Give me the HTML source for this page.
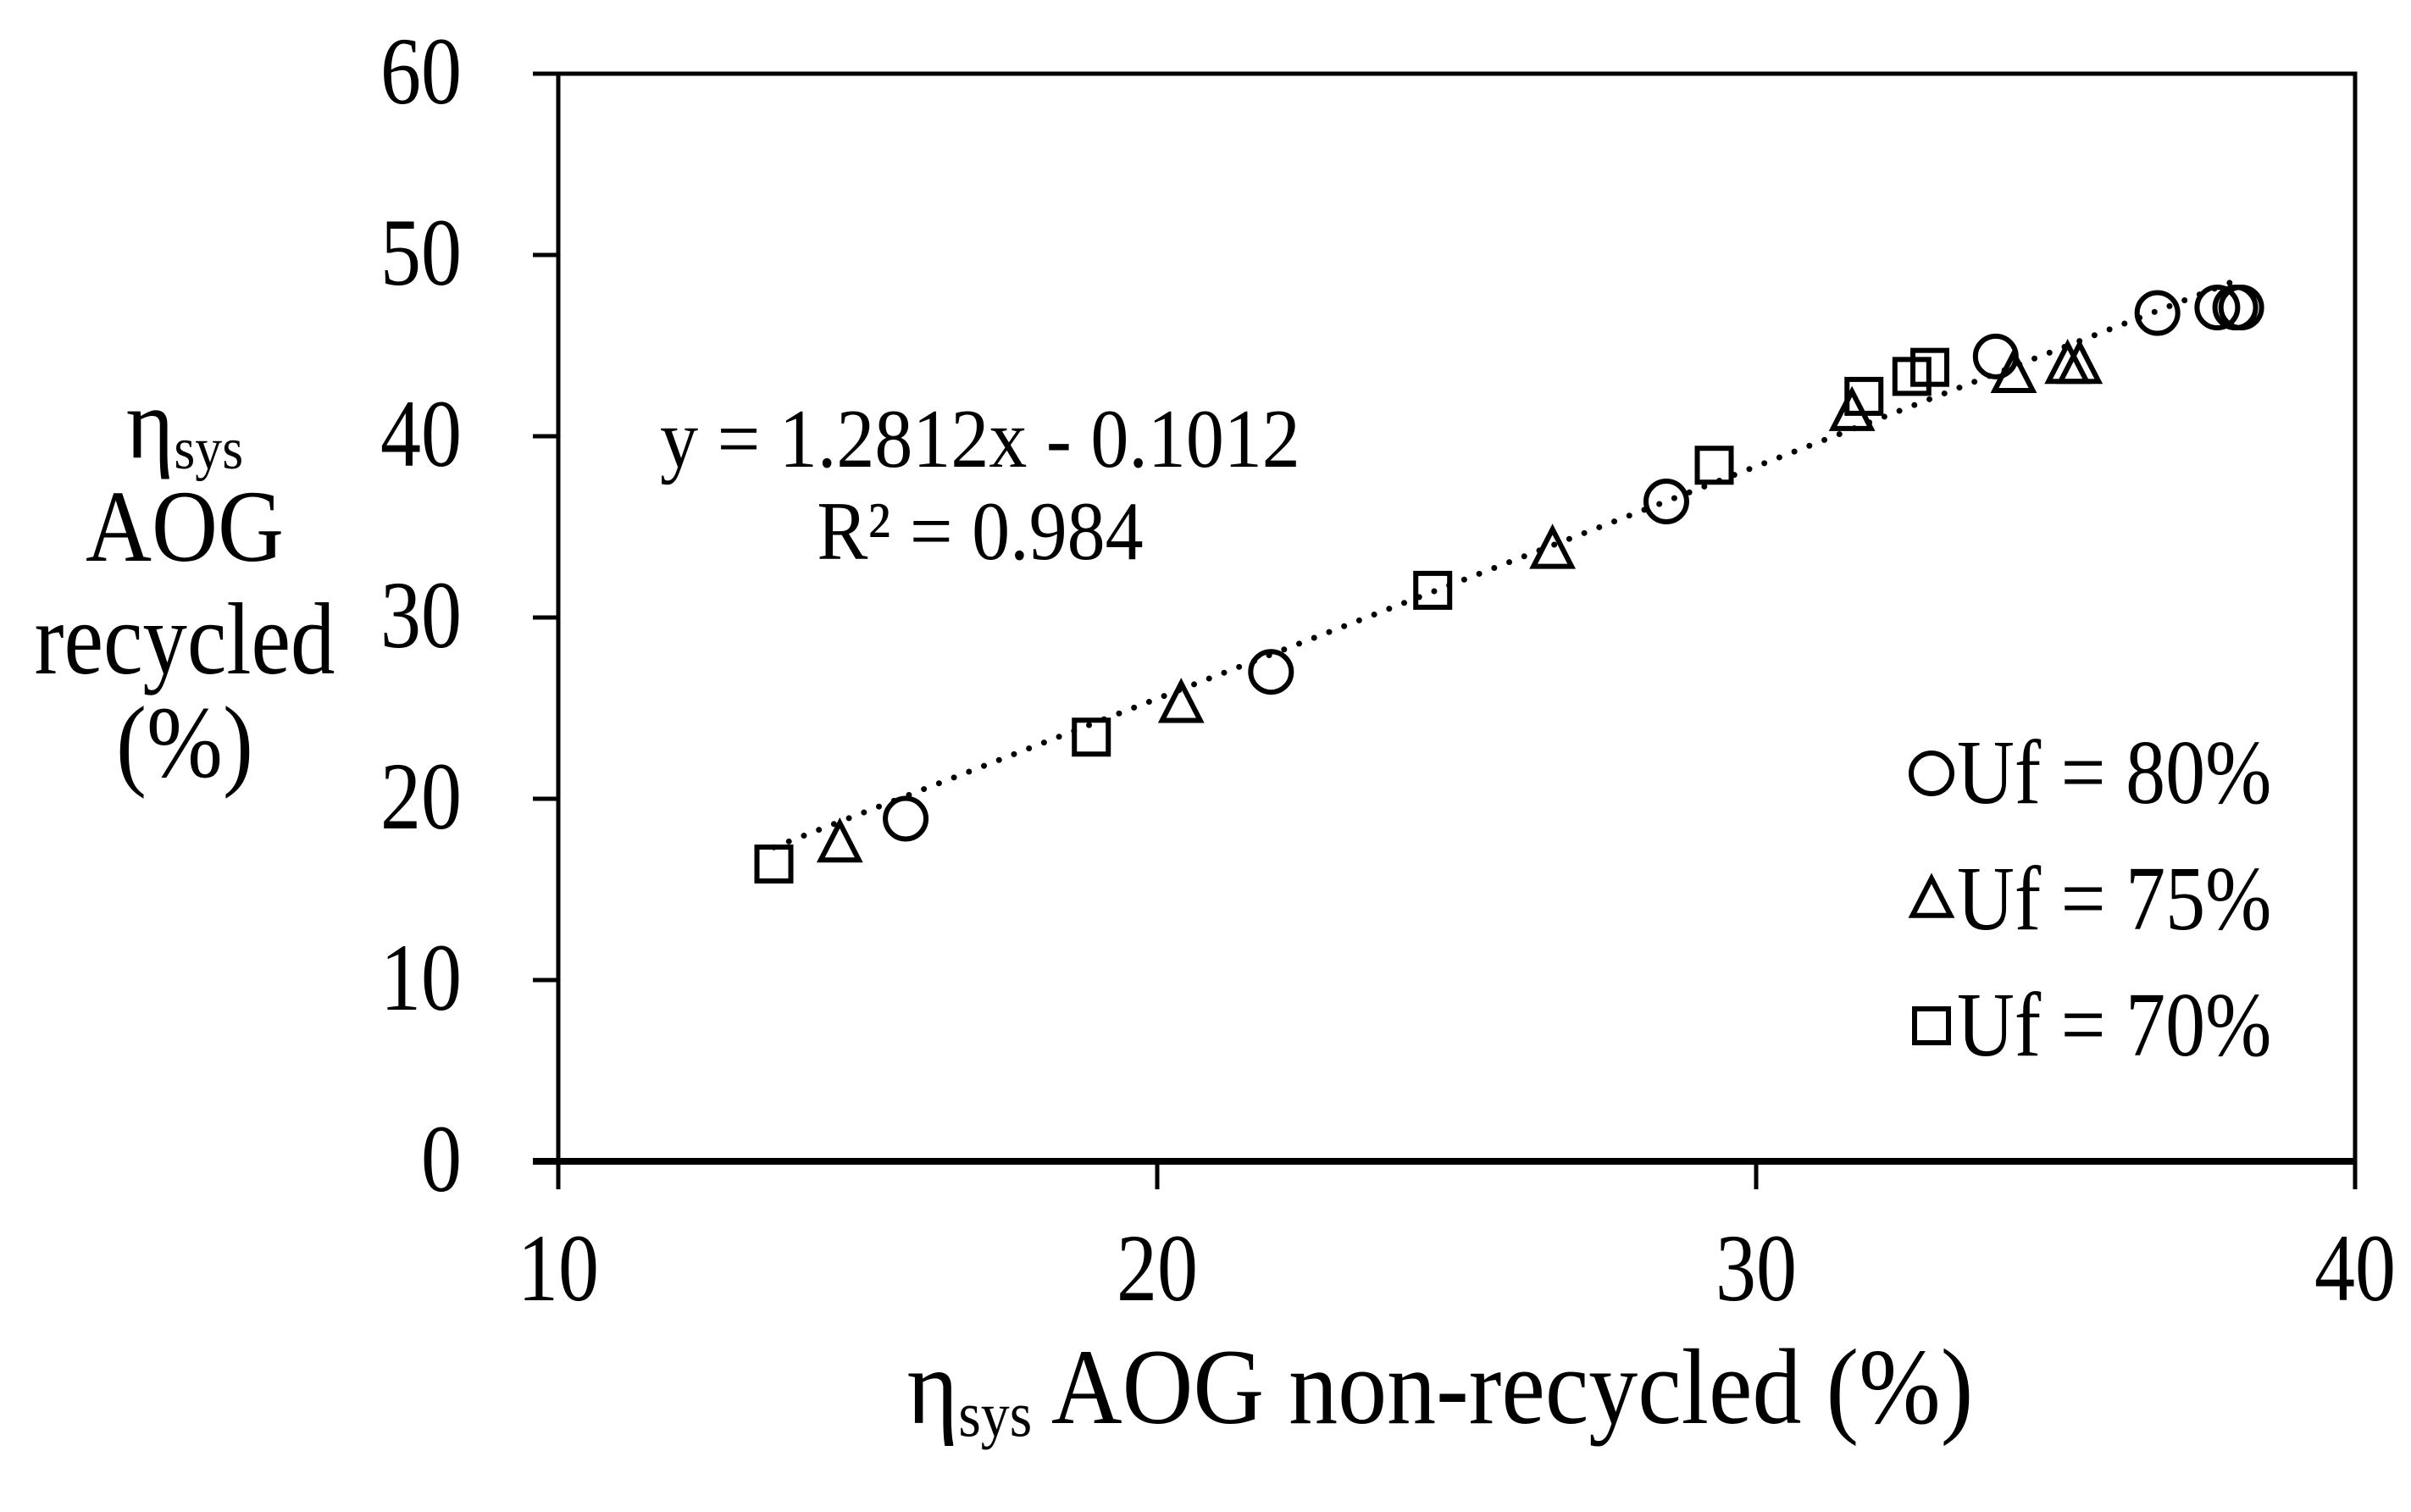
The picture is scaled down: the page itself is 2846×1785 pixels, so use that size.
<!DOCTYPE html>
<html><head><meta charset="utf-8"><style>
html,body{margin:0;padding:0;background:#fff;}
svg{display:block;}
text{font-family:"Liberation Serif",serif;fill:#000;}
</style></head><body>
<svg id="chart" width="2846" height="1785" viewBox="0 0 2846 1785" xmlns="http://www.w3.org/2000/svg">
<rect x="0" y="0" width="2846" height="1785" fill="#fff"/>
<g id="marks"></g>
<g id="axes"></g>
<text transform="translate(1157,551) scale(1,1.1)" font-size="90" text-anchor="middle">y = 1.2812x - 0.1012</text>
<text transform="translate(1157,660) scale(1,1.1)" font-size="90" text-anchor="middle">R² = 0.984</text>
<g font-size="108" text-anchor="middle">
<text transform="translate(218,540) scale(1,1.1)">η<tspan font-size="64" dy="12">sys</tspan></text>
<text transform="translate(218,662) scale(1,1.12)">AOG</text>
<text transform="translate(218,795) scale(0.97,1.12)">recycled</text>
<text transform="translate(218,917) scale(1,1.12)">(%)</text>
</g>
<text transform="translate(1700,1680) scale(1,1.1)" font-size="116" text-anchor="middle">η<tspan font-size="68" dy="14">sys</tspan><tspan dy="-14"> AOG non-recycled (%)</tspan></text>
<g id="legend"></g>
</svg>
<script>
const xTicks = [10, 20, 30, 40];
const yTicks = [0, 10, 20, 30, 40, 50, 60];
const seriesNames = ["Uf = 80%", "Uf = 75%", "Uf = 70%"];
const xUf80 = [15.8, 21.9, 28.5, 34.0, 36.7, 37.7, 38.0, 38.1];
const yUf80 = [18.9, 27.0, 36.4, 44.4, 46.8, 47.1, 47.1, 47.1];
const xUf75 = [14.7, 20.4, 26.6, 31.6, 34.3, 35.2, 35.4];
const yUf75 = [17.5, 25.2, 33.7, 41.3, 43.4, 43.9, 43.9];
const xUf70 = [13.6, 18.9, 24.6, 29.3, 31.8, 32.6, 32.9];
const yUf70 = [16.4, 23.4, 31.5, 38.4, 42.2, 43.3, 43.8];
const trendSlope = 1.2812;
const trendIntercept = -0.1012;

const NS = "http://www.w3.org/2000/svg";
const L = 659, R = 2780, T = 87, B = 1371;
const xMin = 10, xMax = 40, yMin = 0, yMax = 60;
function X(v){ return L + (v - xMin) * (R - L) / (xMax - xMin); }
function Y(v){ return B - (v - yMin) * (B - T) / (yMax - yMin); }
function mk(tag, attrs, parent){
  const e = document.createElementNS(NS, tag);
  for (const k in attrs) e.setAttribute(k, attrs[k]);
  parent.appendChild(e);
  return e;
}
const axes = document.getElementById('axes');
const marks = document.getElementById('marks');
const legend = document.getElementById('legend');

const frame = mk('rect', {x:L, y:T, width:R-L, height:B-T, fill:'none', stroke:'#000', 'stroke-width':5}, axes);


const xAxisLine = mk('line', {x1:L-30, y1:B, x2:R, y2:B, stroke:'#000', 'stroke-width':8}, axes);



yTicks.forEach(v => {
  const t = mk('line', {x1:L-30, y1:Y(v), x2:L, y2:Y(v), stroke:'#000', 'stroke-width':5}, axes);
  
  
  const lb = mk('text', {transform:`translate(545,${Y(v)+35}) scale(1,1.18)`, 'font-size':96, 'text-anchor':'end'}, axes);
  lb.textContent = v;
  
  
});
xTicks.forEach(v => {
  const t = mk('line', {x1:X(v), y1:B, x2:X(v), y2:B+33, stroke:'#000', 'stroke-width':5}, axes);
  
  
  const lb = mk('text', {transform:`translate(${X(v)},1535) scale(1,1.18)`, 'font-size':96, 'text-anchor':'middle'}, axes);
  lb.textContent = v;
  
  
});

const allX = xUf80.concat(xUf75, xUf70);
const tx0 = Math.min.apply(null, allX), tx1 = Math.max.apply(null, allX);
const trend = mk('line', {x1:X(tx0), y1:Y(trendSlope*tx0+trendIntercept), x2:X(tx1), y2:Y(trendSlope*tx1+trendIntercept),
  stroke:'#000', 'stroke-width':7, 'stroke-linecap':'round', 'stroke-dasharray':'0 19'}, marks);



function circle(cx, cy, parent){ return mk('circle', {cx:cx, cy:cy, r:24, fill:'none', stroke:'#000', 'stroke-width':6}, parent); }
function tri(cx, cy, parent){ const s = 25; return mk('polygon', {points:`${cx},${cy-s} ${cx+s*0.9},${cy+s*0.75} ${cx-s*0.9},${cy+s*0.75}`, fill:'none', stroke:'#000', 'stroke-width':6}, parent); }
function sq(cx, cy, parent){ return mk('rect', {x:cx-20, y:cy-20, width:40, height:40, fill:'none', stroke:'#000', 'stroke-width':6}, parent); }

xUf70.forEach((v,i) => {
  const e = sq(X(v), Y(yUf70[i]), marks);
  
  
});
xUf75.forEach((v,i) => {
  const e = tri(X(v), Y(yUf75[i]), marks);
  
  
});
xUf80.forEach((v,i) => {
  const e = circle(X(v), Y(yUf80[i]), marks);
  
  
});

const legY = [913, 1062, 1211];
const shapes = [circle, tri, sq];
seriesNames.forEach((n,i) => {
  const m = shapes[i](2280, legY[i], legend);
  
  
  const t = mk('text', {transform:`translate(2310,${legY[i]+35}) scale(1,1.15)`, 'font-size':94}, legend);
  t.textContent = n;
  
  
});
</script>
</body></html>
